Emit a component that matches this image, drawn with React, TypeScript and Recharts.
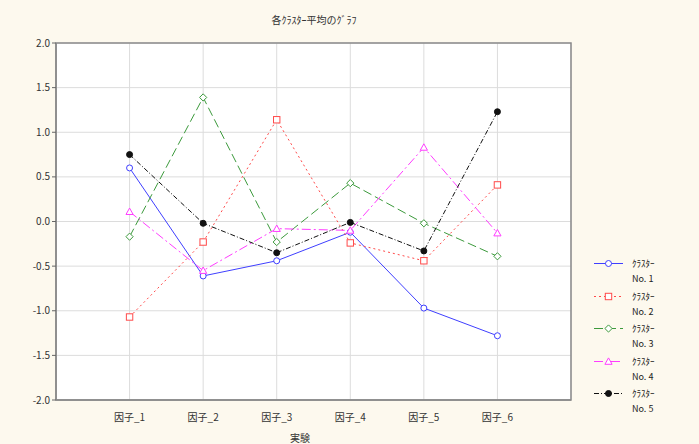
import { LineChart, Line, XAxis, YAxis, CartesianGrid, Legend, ReferenceArea } from 'recharts';

const factors = ['因子_1', '因子_2', '因子_3', '因子_4', '因子_5', '因子_6'];
const cluster1 = [0.6, -0.61, -0.44, -0.12, -0.97, -1.28];
const cluster2 = [-1.07, -0.23, 1.14, -0.24, -0.44, 0.41];
const cluster3 = [-0.17, 1.39, -0.23, 0.43, -0.02, -0.39];
const cluster4 = [0.11, -0.55, -0.08, -0.1, 0.83, -0.13];
const cluster5 = [0.75, -0.02, -0.35, -0.01, -0.33, 1.23];
const yTicks = [-2, -1.5, -1, -0.5, 0, 0.5, 1, 1.5, 2];
const yMinorTicks = [
  -2, -1.9, -1.8, -1.7, -1.6, -1.5, -1.4, -1.3, -1.2, -1.1, -1, -0.9, -0.8, -0.7, -0.6, -0.5, -0.4, -0.3, -0.2,
  -0.1, 0, 0.1, 0.2, 0.3, 0.4, 0.5, 0.6, 0.7, 0.8, 0.9, 1, 1.1, 1.2, 1.3, 1.4, 1.5, 1.6, 1.7, 1.8, 1.9, 2,
];

const data = factors.map((f, i) => ({
  x: i + 1,
  c1: cluster1[i],
  c2: cluster2[i],
  c3: cluster3[i],
  c4: cluster4[i],
  c5: cluster5[i],
}));

const FONT = "'Noto Sans CJK JP', 'DejaVu Sans', sans-serif";
const BG = '#fdf9ee';

type Shape = 'circle' | 'square' | 'diamond' | 'triangle' | 'dot';

const series: { key: string; name: string; color: string; dash?: string; shape: Shape }[] = [
  { key: 'c1', name: 'No. 1', color: '#3f3fff', shape: 'circle' },
  { key: 'c2', name: 'No. 2', color: '#ff4a4a', dash: '2 3', shape: 'square' },
  { key: 'c3', name: 'No. 3', color: '#3c9a3c', dash: '9 4', shape: 'diamond' },
  { key: 'c4', name: 'No. 4', color: '#ff3cff', dash: '9 3 2 3', shape: 'triangle' },
  { key: 'c5', name: 'No. 5', color: '#111111', dash: '5 2 1 2', shape: 'dot' },
];

const Marker = ({ cx, cy, color, shape }: { cx: number; cy: number; color: string; shape: Shape }) => {
  if (cx == null || cy == null) return null;
  if (shape === 'circle')
    return <circle cx={cx} cy={cy} r={3} fill="#fff" stroke={color} strokeWidth={1} />;
  if (shape === 'square')
    return <rect x={cx - 3.2} y={cy - 3.2} width={6.4} height={6.4} fill="#fff" stroke={color} strokeWidth={1} />;
  if (shape === 'diamond')
    return (
      <path
        d={`M${cx},${cy - 3.6}L${cx + 3.6},${cy}L${cx},${cy + 3.6}L${cx - 3.6},${cy}Z`}
        fill="#fff"
        stroke={color}
        strokeWidth={1}
      />
    );
  if (shape === 'triangle')
    return (
      <path
        d={`M${cx},${cy - 3.6}L${cx + 3.6},${cy + 2.8}L${cx - 3.6},${cy + 2.8}Z`}
        fill="#fff"
        stroke={color}
        strokeWidth={1}
      />
    );
  return <circle cx={cx} cy={cy} r={3} fill={color} stroke={color} />;
};

const LegendBox = () => (
  <div style={{ fontFamily: FONT, fontSize: 9, color: '#222', lineHeight: '15px' }}>
    {series.map((s) => (
      <div key={s.key} style={{ display: 'flex', alignItems: 'flex-start', height: 32.5 }}>
        <svg width={40} height={15} style={{ flex: 'none' }}>
          <line x1={4} y1={7.5} x2={33} y2={7.5} stroke={s.color} strokeDasharray={s.dash} strokeWidth={1} />
          <Marker cx={18.5} cy={7.5} color={s.color} shape={s.shape} />
        </svg>
        <div style={{ marginLeft: 2 }}>
          <div style={{ height: 15 }}>ｸﾗｽﾀｰ</div>
          <div style={{ height: 15 }}>{s.name}</div>
        </div>
      </div>
    ))}
  </div>
);

export default function App() {
  return (
    <div style={{ position: 'absolute', left: 0, top: 0, width: 699, height: 444, background: BG }}>
      <div
        style={{
          position: 'absolute',
          left: 0,
          width: 628,
          top: 12,
          textAlign: 'center',
          fontFamily: FONT,
          fontSize: 10,
          color: '#333',
        }}
      >
        各ｸﾗｽﾀｰ平均のｸﾞﾗﾌ
      </div>
      <div
        style={{
          position: 'absolute',
          left: 280,
          width: 40,
          top: 430,
          textAlign: 'center',
          fontFamily: FONT,
          fontSize: 10,
          color: '#333',
        }}
      >
        実験
      </div>
      <LineChart width={699} height={444} data={data} margin={{ top: 43, right: 128, left: 16, bottom: 14 }}>
        <CartesianGrid stroke="#dcdcdc" fill="#ffffff" />
        <XAxis
          dataKey="x"
          type="number"
          domain={[0, 7]}
          ticks={[1, 2, 3, 4, 5, 6]}
          tickFormatter={(v: number) => factors[v - 1]}
          height={30}
          tickLine={false}
          tickMargin={8}
          axisLine={{ stroke: '#8a8a8a', strokeWidth: 1.5 }}
          tick={{ fontFamily: FONT, fontSize: 10, fill: '#333' }}
          interval={0}
        />
        <XAxis
          xAxisId="in"
          dataKey="x"
          type="number"
          domain={[0, 7]}
          ticks={[1, 2, 3, 4, 5, 6]}
          height={0}
          mirror
          tick={false}
          tickSize={3}
          axisLine={false}
          tickLine={{ stroke: '#555' }}
        />
        <YAxis
          type="number"
          domain={[-2, 2]}
          ticks={yTicks}
          width={40}
          tickSize={4}
          tickMargin={2}
          tickFormatter={(v: number) => v.toFixed(1)}
          axisLine={{ stroke: '#8a8a8a', strokeWidth: 1.5 }}
          tickLine={{ stroke: '#666' }}
          tick={{ fontFamily: FONT, fontSize: 10, fill: '#333' }}
        />
        <YAxis
          yAxisId="minorL"
          type="number"
          domain={[-2, 2]}
          ticks={yMinorTicks}
          width={0}
          mirror
          tick={false}
          tickSize={2}
          axisLine={false}
          tickLine={{ stroke: '#777' }}
        />
        <YAxis
          yAxisId="minorR"
          orientation="right"
          type="number"
          domain={[-2, 2]}
          ticks={yMinorTicks}
          width={0}
          mirror
          tick={false}
          tickSize={2}
          axisLine={false}
          tickLine={{ stroke: '#777' }}
        />
        <ReferenceArea x1={0} x2={7} y1={-2} y2={2} fill="none" fillOpacity={0} stroke="#8a8a8a" strokeWidth={1.5} />
        {series.map((s) => (
          <Line
            key={s.key}
            dataKey={s.key}
            name={s.name}
            stroke={s.color}
            strokeWidth={1}
            strokeDasharray={s.dash}
            isAnimationActive={false}
            dot={(p: any) => <Marker key={`${s.key}-${p.index}`} cx={p.cx} cy={p.cy} color={s.color} shape={s.shape} />}
          />
        ))}
        <Legend
          layout="vertical"
          align="center"
          verticalAlign="middle"
          content={() => <LegendBox />}
          wrapperStyle={{ left: 590, top: 256, width: 100 }}
        />
      </LineChart>
    </div>
  );
}
